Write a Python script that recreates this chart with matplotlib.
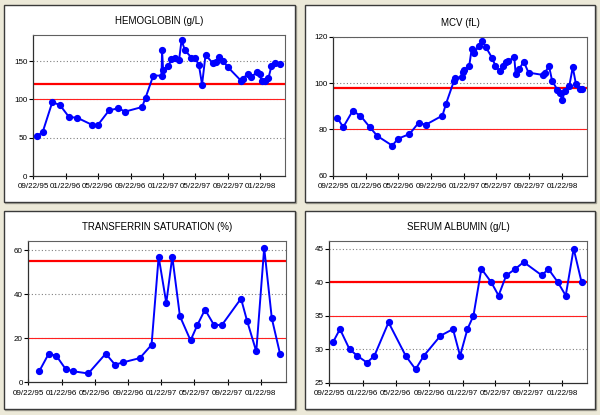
import numpy as np
import matplotlib
matplotlib.use("Agg")
import matplotlib.pyplot as plt
import matplotlib.dates as mdates
from matplotlib.patches import Rectangle

plt.rcParams['font.family'] = ['Liberation Sans', 'DejaVu Sans']

# days after 09/22/95 for each lab draw
start = np.datetime64('1995-09-22')

hb_days = [14, 36, 72, 100, 135, 166, 220, 242, 285, 320, 345, 409, 422, 451, 482, 484, 488,
           508, 519, 532, 548, 557, 570, 594, 607, 622, 634, 647, 674, 685, 699, 711, 731,
           781, 788, 805, 818, 841, 850, 857, 871, 883, 894, 909, 925]
hb_vals = [52, 57, 96, 93, 77, 76, 67, 66, 85.5, 88.5, 84, 90, 102, 131, 131, 164, 138,
           143.5, 152.5, 153.8, 152, 177, 164, 154.5, 154.5, 145, 119.4, 158, 147.3, 148.2, 155.3, 150.5, 142,
           124, 127, 133.7, 129, 136, 133, 123.5, 123.5, 128, 143, 148, 146.7]

mcv_days = [15, 37, 72, 101, 136, 164, 220, 241, 284, 319, 344, 407, 420, 450, 452, 479, 484,
            489, 507, 516, 526, 542, 555, 568, 593, 604, 620, 633, 644, 653, 675, 680, 694,
            710, 728, 781, 790, 804, 816, 836, 846, 853, 865, 880, 893, 905, 920, 928]
mcv_vals = [85, 81, 88, 86, 81, 77.2, 73, 76, 78, 83, 82, 86, 91, 101, 102.4, 102.6, 105,
            105.6, 107.6, 114.8, 113, 116.1, 118.3, 115.8, 110.8, 107.6, 105.3, 107.6, 109.4, 109.7, 111.2, 104, 106.2,
            109.4, 104.6, 103.6, 104.6, 107.6, 101.1, 97.1, 95.7, 92.8, 96.7, 98.8, 106.9, 99.6, 97.4, 97.4]

ts_days = [40, 75, 103, 137, 165, 220, 284, 318, 346, 409, 452, 478, 506, 528, 556, 595,
           620, 648, 681, 710, 780, 802, 836, 865, 893, 923]
ts_vals = [5, 13, 12, 6, 5, 4, 13, 8, 9, 11, 17, 57, 36, 57, 30, 19,
           26, 33, 26, 26, 38, 28, 14, 61, 29, 13]

alb_days = [13, 39, 74, 103, 138, 165, 217, 280, 316, 346, 407, 453, 479, 506, 528, 557,
            593, 620, 648, 682, 712, 779, 802, 837, 866, 895, 924]
alb_vals = [31, 33, 30, 29, 28, 29, 34, 29, 27, 29, 32, 33, 29, 33, 35, 42,
            40, 38, 41, 42, 43, 41, 42, 40, 38, 45, 40]

tick_dates = ['1995-09-22', '1996-01-22', '1996-05-22', '1996-09-22',
              '1997-01-22', '1997-05-22', '1997-09-22', '1998-01-22']

panels = [
    # title, days, values, yticks, ylim, upper limit, lower limit
    ("HEMOGLOBIN (g/L)", hb_days, hb_vals, [0, 50, 100, 150], (0, 184), 120, 100),
    ("MCV (fL)", mcv_days, mcv_vals, [60, 80, 100, 120], (60, 120), 98, 80),
    ("TRANSFERRIN SATURATION (%)", ts_days, ts_vals, [0, 20, 40, 60], (0, 64), 55, 20),
    ("SERUM ALBUMIN (g/L)", alb_days, alb_vals, [25, 30, 35, 40, 45], (25, 46.1), 40, 35),
]

# axes boxes in pixels (left, top, right, bottom)
boxes = [(33, 35, 285, 176), (333.3, 37, 586.7, 175.7),
         (28.3, 241.3, 286, 382.3), (329.3, 241.3, 587.3, 382.7)]
frames = [(4, 5, 295, 202), (305, 5, 595, 202), (4, 211, 295, 409), (305, 211, 595, 409)]

W, H = 600, 415
fig = plt.figure(figsize=(6, 4.15), dpi=100, facecolor='#ECE9D8')

for (l, t, r, b) in frames:
    # small shadow, then the white panel
    fig.patches.append(Rectangle(((l + 1) / W, 1 - (b + 1) / H), (r - l) / W, (b - t) / H,
                                 transform=fig.transFigure, facecolor='none',
                                 edgecolor='#a8a698', linewidth=1.0, zorder=-11))
    fig.patches.append(Rectangle((l / W, 1 - b / H), (r - l) / W, (b - t) / H,
                                 transform=fig.transFigure, facecolor='white',
                                 edgecolor='#3a3a3a', linewidth=1.0, zorder=-10))

tdates = [np.datetime64(d) for d in tick_dates]

for (title, days, vals, yt, ylim, hi, lo), (l, t, r, b) in zip(panels, boxes):
    ax = fig.add_axes([l / W, 1 - b / H, (r - l) / W, (b - t) / H])
    ax.set_facecolor('white')
    x = start + np.array(days).astype('timedelta64[D]')
    ax.set_yticks(yt)
    for v in yt[1:]:
        ax.axhline(v, color='#808080', lw=0.8, ls=(0, (1, 2)), zorder=1)
    ax.axhline(lo, color='#ff2020', lw=0.8, zorder=2)
    ax.axhline(hi, color='#ff0000', lw=1.6, zorder=2)
    ax.plot(x, vals, color='#0000ff', lw=1.4, marker='o', markersize=4.2, zorder=3)
    ax.set_ylim(*ylim)
    ax.set_xlim(start, start + np.timedelta64(945, 'D'))
    ax.set_xticks(tdates)
    ax.xaxis.set_major_formatter(mdates.DateFormatter('%m/%d/%y'))
    ax.tick_params(axis='x', direction='inout', length=4.5, width=0.8, labelsize=5.8, pad=3)
    ax.tick_params(axis='y', direction='out', length=3, width=0.8, labelsize=5.8, pad=1)
    for s in ['left', 'bottom']:
        ax.spines[s].set_color('#303030')
        ax.spines[s].set_linewidth(0.9)
    for s in ['top', 'right']:
        ax.spines[s].set_color('#606060')
        ax.spines[s].set_linewidth(0.8)
    ax.set_title(title, fontsize=7, pad=8)

fig.savefig('out.png', dpi=100, facecolor=fig.get_facecolor())
